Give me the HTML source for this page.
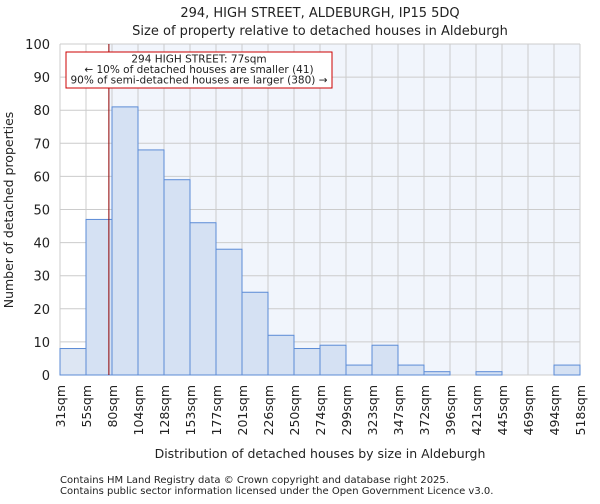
<!DOCTYPE html>
<html><head><meta charset="utf-8"><style>
body{margin:0;background:#fff;font-family:"DejaVu Sans","Liberation Sans",sans-serif;}
svg text{font-family:"DejaVu Sans","Liberation Sans",sans-serif;fill:#222;}
</style></head><body>
<svg id="chart" width="600" height="500" xmlns="http://www.w3.org/2000/svg">
<text x="320" y="17" font-size="13" text-anchor="middle">294, HIGH STREET, ALDEBURGH, IP15 5DQ</text>
<text x="320" y="35" font-size="13" text-anchor="middle">Size of property relative to detached houses in Aldeburgh</text>
<g id="plot"></g>
<text x="320" y="458" font-size="12.5" text-anchor="middle">Distribution of detached houses by size in Aldeburgh</text>
<text transform="translate(13,210) rotate(-90)" font-size="12.5" text-anchor="middle">Number of detached properties</text>
<text x="60" y="483" font-size="10" fill="#444">Contains HM Land Registry data © Crown copyright and database right 2025.</text>
<text x="60" y="494" font-size="10" fill="#444">Contains public sector information licensed under the Open Government Licence v3.0.</text>
</svg>
<script>
const binLabels=["31sqm","55sqm","80sqm","104sqm","128sqm","153sqm","177sqm","201sqm","226sqm","250sqm","274sqm","299sqm","323sqm","347sqm","372sqm","396sqm","421sqm","445sqm","469sqm","494sqm","518sqm"];
const binEdges=[31,55,80,104,128,153,177,201,226,250,274,299,323,347,372,396,421,445,469,494,518];
const counts=[8,47,81,68,59,46,38,25,12,8,9,3,9,3,1,0,1,0,0,3];
const yTicks=[0,10,20,30,40,50,60,70,80,90,100];
const subjectSize=77;
const NS="http://www.w3.org/2000/svg";
const L=60,R=580,T=44,B=375,yMax=100;
const nb=counts.length;
const xi=i=>L+(R-L)*i/nb;
const xv=v=>{let i=0;while(i<binEdges.length-2&&v>binEdges[i+1])i++;return xi(i)+(v-binEdges[i])/(binEdges[i+1]-binEdges[i])*(R-L)/nb;};
const y=v=>B-(B-T)*v/yMax;
const g=document.getElementById('plot');
function mk(t,a){const e=document.createElementNS(NS,t);for(const k in a)e.setAttribute(k,a[k]);g.appendChild(e);return e;}
const sx=xv(subjectSize);
let e=mk('rect',{x:L,y:T,width:sx-L,height:B-T,fill:'#ffffff'});


e=mk('rect',{x:sx,y:T,width:R-sx,height:B-T,fill:'#f1f5fc'});


yTicks.forEach(t=>{
 let l=mk('line',{x1:L,x2:R,y1:y(t),y2:y(t),stroke:'#cccccc','stroke-width':1});
 
 
 let tx=mk('text',{x:L-10,y:y(t)+5,'font-size':13,'text-anchor':'end'});tx.textContent=t;
 
 
});
binLabels.forEach((s,i)=>{
 let l=mk('line',{x1:xi(i),x2:xi(i),y1:T,y2:B,stroke:'#cccccc','stroke-width':1});
 
 
 let tx=mk('text',{transform:`translate(${xi(i)+5},${B+10}) rotate(-90)`,'font-size':12.5,'text-anchor':'end'});tx.textContent=s;
 
 
});
counts.forEach((c,i)=>{
 if(c<=0)return;
 let r=mk('rect',{x:xi(i),y:y(c),width:xi(i+1)-xi(i),height:B-y(c),fill:xi(i+1)<=sx?'#dde6f3':'#d5e1f3',stroke:'#5b8bd6','stroke-width':1});
 
 
});
e=mk('line',{x1:sx,x2:sx,y1:T,y2:B,stroke:'#900000','stroke-width':1});


e=mk('rect',{x:66,y:52,width:266,height:36,fill:'#fff',stroke:'#cc0000','stroke-width':1});


["294 HIGH STREET: 77sqm","← 10% of detached houses are smaller (41)","90% of semi-detached houses are larger (380) →"].forEach((s,k)=>{
 let tx=mk('text',{x:199,y:62.5+k*10.5,'font-size':10.5,'text-anchor':'middle'});tx.textContent=s;
 
 
});
</script>
</body></html>
